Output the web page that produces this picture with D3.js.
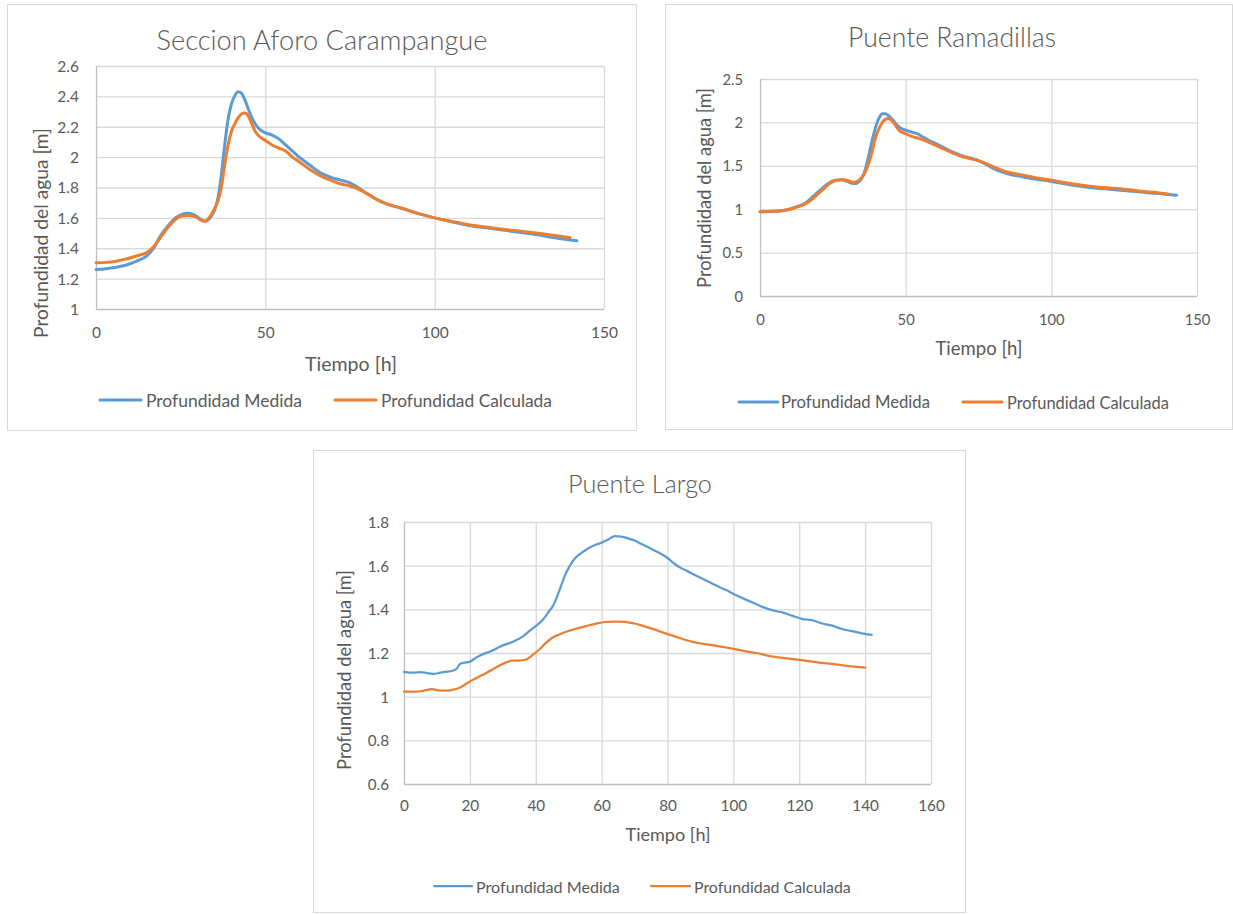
<!DOCTYPE html>
<html><head><meta charset="utf-8">
<script src="https://cdn.jsdelivr.net/npm/d3@7/dist/d3.min.js"></script>
<style>
body{margin:0;background:#fff}
text{font-family:Lato,"Open Sans","Noto Sans",sans-serif;fill:#595959}
</style>
</head><body>
<svg id="c" width="1233" height="914"></svg>
<script>
// ---------- DATA ----------
const legendLabels = ["Profundidad Medida", "Profundidad Calculada"];
const xAxisTitle = "Tiempo [h]";
const yAxisTitle = "Profundidad del agua [m]";

// Seccion Aforo Carampangue
const caraTitle = "Seccion Aforo Carampangue";
const caraXTicks = [0, 50, 100, 150];
const caraYTicks = [1, 1.2, 1.4, 1.6, 1.8, 2, 2.2, 2.4, 2.6];
const caraMedT = [0,3,6,9,12,15,17,19,21,23,25,27,29,31,32,33,34,35,36,37,38,39,40,41,42,43,44,45,46,47,48,50,52,54,56,58,60,63,66,69,72,75,77,80,83,86,90,95,100,105,110,115,120,125,130,135,140,142];
const caraMedV = [1.26,1.265,1.275,1.29,1.315,1.35,1.40,1.48,1.54,1.59,1.62,1.63,1.62,1.59,1.578,1.585,1.61,1.65,1.73,1.88,2.08,2.25,2.35,2.405,2.43,2.42,2.375,2.315,2.26,2.22,2.19,2.16,2.145,2.12,2.08,2.04,2.0,1.95,1.9,1.87,1.85,1.83,1.805,1.76,1.72,1.69,1.665,1.63,1.60,1.575,1.55,1.535,1.52,1.505,1.49,1.47,1.455,1.45];
const caraCalT = [0,3,6,9,12,15,17,19,21,23,25,27,29,31,32,33,34,35,36,37,38,39,40,41,42,43,44,45,46,47,48,50,52,54,56,58,60,63,66,69,72,75,77,80,83,86,90,95,100,105,110,115,120,125,130,135,140];
const caraCalV = [1.305,1.307,1.315,1.33,1.35,1.372,1.41,1.47,1.53,1.58,1.61,1.615,1.61,1.585,1.578,1.59,1.62,1.66,1.71,1.80,1.95,2.08,2.17,2.22,2.26,2.285,2.29,2.27,2.22,2.17,2.14,2.11,2.08,2.06,2.04,2.0,1.97,1.92,1.88,1.85,1.825,1.81,1.795,1.76,1.72,1.69,1.665,1.63,1.60,1.577,1.555,1.54,1.525,1.513,1.50,1.485,1.47];

// Puente Ramadillas
const ramaTitle = "Puente Ramadillas";
const ramaXTicks = [0, 50, 100, 150];
const ramaYTicks = [0, 0.5, 1, 1.5, 2, 2.5];
const ramaMedT = [0,5,8,11,14,16,18,20,22,24,26,28,30,32,33,34,35,36,37,38,39,40,41,42,43,44,45,46,47,48,50,52,54,56,58,60,63,66,69,72,75,78,80,83,86,90,95,100,105,110,115,120,125,130,135,140,143];
const ramaMedV = [0.97,0.975,0.985,1.01,1.045,1.08,1.14,1.2,1.26,1.31,1.335,1.34,1.32,1.295,1.295,1.32,1.36,1.44,1.57,1.72,1.86,1.98,2.06,2.1,2.1,2.08,2.05,2.01,1.97,1.94,1.91,1.89,1.87,1.83,1.79,1.76,1.71,1.66,1.62,1.59,1.56,1.51,1.47,1.43,1.4,1.375,1.345,1.32,1.29,1.265,1.245,1.23,1.215,1.2,1.185,1.17,1.16];
const ramaCalT = [0,5,8,11,14,16,18,20,22,24,26,28,30,32,33,34,35,36,37,38,39,40,41,42,43,44,45,46,47,48,50,52,54,56,58,60,63,66,69,72,75,78,80,83,86,90,95,100,105,110,115,120,125,130,135,140];
const ramaCalV = [0.97,0.975,0.985,1.005,1.04,1.07,1.12,1.18,1.24,1.3,1.33,1.34,1.33,1.31,1.315,1.335,1.37,1.42,1.5,1.6,1.74,1.86,1.94,2.0,2.035,2.045,2.03,1.99,1.94,1.9,1.87,1.84,1.82,1.8,1.77,1.74,1.695,1.65,1.61,1.585,1.56,1.52,1.49,1.45,1.42,1.395,1.36,1.335,1.305,1.28,1.26,1.245,1.23,1.21,1.195,1.175];

// Puente Largo
const largoTitle = "Puente Largo";
const largoXTicks = [0, 20, 40, 60, 80, 100, 120, 140, 160];
const largoYTicks = [0.6, 0.8, 1, 1.2, 1.4, 1.6, 1.8];
const largoMedT = [0,3,5,7,9,11,13,15,16,17,18,20,22,24,26,28,30,32,34,36,38,40,42,44,45,46,47,48,49,50,51,52,54,56,58,60,62,64,66,68,70,72,74,76,78,80,82,84,86,88,90,92,94,96,98,100,103,106,109,112,115,118,121,124,127,130,133,136,139,142];
const largoMedV = [1.114,1.11,1.112,1.108,1.104,1.11,1.115,1.12,1.128,1.15,1.155,1.16,1.18,1.195,1.206,1.22,1.235,1.245,1.258,1.275,1.30,1.323,1.35,1.39,1.41,1.44,1.48,1.52,1.56,1.59,1.615,1.635,1.66,1.68,1.695,1.705,1.72,1.735,1.733,1.725,1.715,1.70,1.685,1.67,1.655,1.635,1.61,1.59,1.575,1.56,1.545,1.53,1.515,1.5,1.487,1.47,1.45,1.43,1.41,1.395,1.385,1.37,1.355,1.35,1.335,1.325,1.31,1.3,1.29,1.283];
const largoCalT = [0,4,6,8.5,11,13,15,17,19,21,23,25,27,29,31,33,35,37,39,41,43,45,47,49,52,55,58,61,64,67,70,73,76,79,82,85,88,91,95,99,103,107,111,115,120,125,130,135,140];
const largoCalV = [1.023,1.023,1.028,1.034,1.028,1.028,1.032,1.042,1.06,1.078,1.093,1.108,1.126,1.143,1.157,1.165,1.165,1.17,1.19,1.215,1.245,1.27,1.284,1.296,1.31,1.322,1.333,1.342,1.344,1.343,1.335,1.322,1.308,1.292,1.277,1.262,1.25,1.242,1.233,1.222,1.21,1.2,1.186,1.178,1.168,1.158,1.15,1.14,1.133];

// ---------- LAYOUT ----------
const colors = ["#5B9BD5", "#ED7D31"];
const charts = [
  {title: caraTitle, xTicks: caraXTicks, yTicks: caraYTicks,
   series: [[caraMedT, caraMedV], [caraCalT, caraCalV]],
   panel: [7.5, 4.5, 629, 426], plot: {l: 96, r: 604, t: 66, b: 309},
   titlePos: [322, 39, 331], yTitlePos: [40, 233, 210], xTitlePos: [351, 363, 92],
   tickW: 27, tickRef: "150", yGap: 17, xLabY: 333, lw: 3,
   legend: {y: 400, items: [[100, 141, 146, 156], [335, 376, 381, 171]]}},
  {title: ramaTitle, xTicks: ramaXTicks, yTicks: ramaYTicks,
   series: [[ramaMedT, ramaMedV], [ramaCalT, ramaCalV]],
   panel: [665.5, 4.5, 567, 425], plot: {l: 760, r: 1197, t: 79, b: 296},
   titlePos: [952, 37, 208], yTitlePos: [704, 188, 200], xTitlePos: [979, 348, 87],
   tickW: 25.7, tickRef: "150", yGap: 17, xLabY: 320, lw: 3,
   legend: {y: 402, items: [[739, 778, 781, 149], [963, 1002, 1007, 162]]}},
  {title: largoTitle, xTicks: largoXTicks, yTicks: largoYTicks,
   series: [[largoMedT, largoMedV], [largoCalT, largoCalV]],
   panel: [313.5, 450.5, 652, 462], plot: {l: 404, r: 931, t: 522, b: 784},
   titlePos: [640, 483, 144], yTitlePos: [344, 670, 200], xTitlePos: [668, 834, 85],
   tickW: 26.6, tickRef: "160", yGap: 15, xLabY: 806, lw: 2.25,
   legend: {y: 886, items: [[434, 472, 476, 144], [651, 690, 694, 157]]}}
];

const svg = d3.select("#c");

function fitSize(str, width, weight) {
  const t = svg.append("text").attr("font-size", 100).attr("font-weight", weight || 400).text(str);
  const w = t.node().getComputedTextLength();
  t.remove();
  return 100 * width / w;
}

charts.forEach(c => {
  const g = svg.append("g");
  g.append("rect").attr("x", c.panel[0]).attr("y", c.panel[1])
    .attr("width", c.panel[2]).attr("height", c.panel[3])
    .attr("fill", "#fff").attr("stroke", "#D9D9D9").attr("stroke-width", 1);

  const x = d3.scaleLinear().domain([c.xTicks[0], c.xTicks[c.xTicks.length - 1]]).range([c.plot.l, c.plot.r]);
  const y = d3.scaleLinear().domain([c.yTicks[0], c.yTicks[c.yTicks.length - 1]]).range([c.plot.b, c.plot.t]);

  const tickFs = fitSize(c.tickRef, c.tickW);

  // grid + axes
  const yAx = d3.axisLeft(y).tickValues(c.yTicks).tickSize(-(c.plot.r - c.plot.l)).tickPadding(c.yGap).tickFormat(d => String(d));
  const xAx = d3.axisBottom(x).tickValues(c.xTicks).tickSize(-(c.plot.b - c.plot.t)).tickPadding(0).tickFormat(d => String(d));
  const gy = g.append("g").attr("transform", `translate(${c.plot.l},0)`).call(yAx);
  const gx = g.append("g").attr("transform", `translate(0,${c.plot.b})`).call(xAx);
  [gx, gy].forEach(a => {
    a.select(".domain").remove();
    a.selectAll(".tick line").attr("stroke", "#D9D9D9").attr("stroke-width", 1.3);
    a.selectAll(".tick text").attr("font-size", tickFs).attr("fill", "#595959")
      .style("font-family", "Lato,'Open Sans',sans-serif");
  });
  gy.selectAll(".tick text").attr("dy", "0.35em");
  gx.selectAll(".tick text").attr("y", c.xLabY - c.plot.b).attr("dy", "0.35em");
  gx.selectAll(".tick").filter(d => d === c.xTicks[0]).select("line").attr("stroke", "#BFBFBF");
  gy.selectAll(".tick").filter(d => d === c.yTicks[0]).select("line").attr("stroke", "#BFBFBF");

  // lines
  const line = d3.line().x(d => x(d[0])).y(d => y(d[1])).curve(d3.curveMonotoneX);
  c.series.forEach((s, i) => {
    const pts = s[0].map((t, k) => [t, s[1][k]]);
    g.append("path").attr("d", line(pts)).attr("fill", "none")
      .attr("stroke", colors[i]).attr("stroke-width", c.lw)
      .attr("stroke-linejoin", "round").attr("stroke-linecap", "round");
  });

  // titles
  g.append("text").attr("x", c.titlePos[0]).attr("y", c.titlePos[1]).attr("text-anchor", "middle")
    .attr("dominant-baseline", "central").attr("font-weight", 300)
    .attr("font-size", fitSize(c.title, c.titlePos[2], 300)).text(c.title);
  g.append("text").attr("transform", `translate(${c.yTitlePos[0]},${c.yTitlePos[1]}) rotate(-90)`)
    .attr("text-anchor", "middle").attr("dominant-baseline", "central")
    .attr("font-size", fitSize(yAxisTitle, c.yTitlePos[2])).text(yAxisTitle);
  g.append("text").attr("x", c.xTitlePos[0]).attr("y", c.xTitlePos[1]).attr("text-anchor", "middle")
    .attr("dominant-baseline", "central").attr("font-size", fitSize(xAxisTitle, c.xTitlePos[2])).text(xAxisTitle);

  // legend
  c.legend.items.forEach((it, i) => {
    g.append("line").attr("x1", it[0]).attr("x2", it[1]).attr("y1", c.legend.y).attr("y2", c.legend.y)
      .attr("stroke", colors[i]).attr("stroke-width", c.lw).attr("stroke-linecap", "round");
    g.append("text").attr("x", it[2]).attr("y", c.legend.y).attr("dominant-baseline", "central")
      .attr("font-size", fitSize(legendLabels[i], it[3])).text(legendLabels[i]);
  });
});
</script>
</body></html>
